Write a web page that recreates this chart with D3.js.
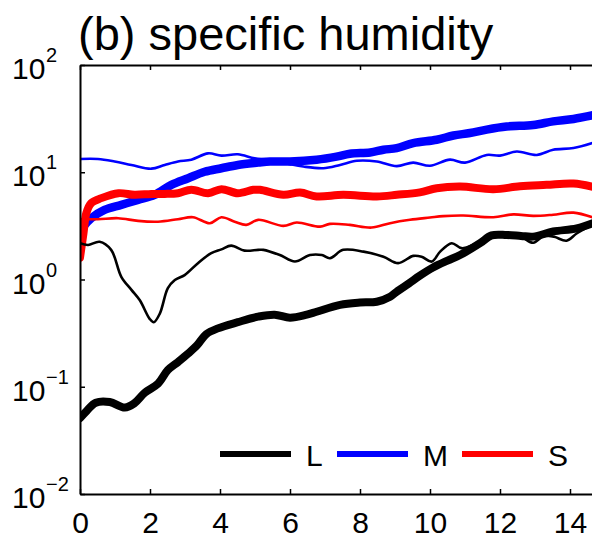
<!DOCTYPE html>
<html>
<head>
<meta charset="utf-8">
<script src="https://cdn.jsdelivr.net/npm/d3@7"></script>
<style>
  html, body { margin: 0; padding: 0; background: #fff; }
  svg { display: block; font-family: "Liberation Sans", Arial, Helvetica, sans-serif; }
</style>
</head>
<body>
<svg id="chart" width="592" height="541"></svg>
<script>
// Specific humidity time series for the L, M and S classes (thick and thin variants)
const titleText = "(b) specific humidity";
const xTicks = [0, 2, 4, 6, 8, 10, 12, 14];
const yTickExponents = [-2, -1, 0, 1, 2];

const lThickT = [0, 0.2, 0.45, 0.85, 1.28, 1.55, 1.85, 2.23, 2.51, 2.8, 3.09, 3.35, 3.61, 3.94, 4.51, 5.09, 5.56, 6.0, 6.48, 6.76, 7.43, 8.0, 8.48, 8.86, 9.05, 9.4, 9.7, 10.1, 10.5, 10.86, 11.43, 11.76, 12.19, 12.6, 12.95, 13.52, 14.19, 14.75];
const lThickQ = [0.051, 0.060, 0.071, 0.072, 0.064, 0.070, 0.088, 0.107, 0.143, 0.170, 0.204, 0.245, 0.31, 0.35, 0.40, 0.45, 0.47, 0.44, 0.47, 0.50, 0.58, 0.61, 0.62, 0.69, 0.77, 0.92, 1.08, 1.30, 1.50, 1.69, 2.18, 2.58, 2.60, 2.55, 2.51, 2.80, 3.0, 3.45];

const lThinT = [0, 0.23, 0.56, 0.89, 1.18, 1.47, 1.71, 1.99, 2.11, 2.28, 2.51, 2.71, 2.99, 3.37, 3.75, 4.04, 4.32, 4.70, 5.09, 5.24, 5.71, 6.14, 6.57, 6.91, 7.14, 7.52, 8.10, 8.67, 9.09, 9.52, 9.76, 10.05, 10.29, 10.62, 10.9, 11.3, 11.76, 12.19, 12.6, 12.95, 13.25, 13.55, 13.9, 14.2, 14.75];
const lThinQ = [2.18, 2.10, 2.25, 1.89, 1.06, 0.80, 0.64, 0.43, 0.40, 0.48, 0.83, 0.99, 1.10, 1.42, 1.76, 1.91, 2.07, 1.86, 1.89, 1.89, 1.69, 1.47, 1.69, 1.69, 1.58, 1.89, 1.82, 1.63, 1.42, 1.66, 1.63, 1.47, 1.82, 2.18, 1.96, 2.15, 2.55, 2.60, 2.50, 2.20, 2.55, 2.50, 2.30, 2.70, 3.40];

const mThickT = [0, 0.1, 0.32, 0.7, 1.18, 1.66, 2.13, 2.61, 3.09, 3.56, 4.04, 4.51, 5.09, 5.43, 6.0, 6.76, 7.33, 7.71, 8.29, 8.67, 9.05, 9.52, 10.19, 10.67, 11.14, 11.62, 12.19, 12.95, 13.52, 14.1, 14.75];
const mThickQ = [2.4, 3.1, 3.73, 4.46, 4.97, 5.53, 6.16, 7.63, 8.8, 10.1, 10.9, 11.7, 12.3, 12.6, 12.6, 13.1, 14.0, 14.9, 15.3, 16.2, 16.8, 18.7, 20.1, 22.0, 23.2, 25.0, 26.7, 27.6, 29.8, 31.4, 34.5];

const mThinT = [0, 0.51, 0.99, 1.47, 2.04, 2.42, 2.8, 3.18, 3.66, 4.04, 4.51, 4.99, 5.43, 6.0, 6.38, 6.95, 7.43, 7.91, 8.48, 9.05, 9.52, 10.0, 10.57, 11.0, 11.62, 12.0, 12.48, 13.05, 13.52, 14.1, 14.75];
const mThinQ = [13.3, 13.3, 12.6, 11.7, 10.8, 11.7, 12.6, 13.1, 15.0, 14.3, 14.7, 13.5, 13.1, 11.9, 11.3, 10.9, 11.7, 12.8, 12.6, 11.4, 12.3, 11.5, 13.1, 12.3, 14.5, 14.3, 15.6, 14.5, 16.2, 16.8, 19.2];

const sThickT = [0, 0.1, 0.18, 0.32, 0.61, 1.1, 1.56, 2.04, 2.42, 2.8, 3.18, 3.66, 4.04, 4.51, 4.95, 5.14, 5.81, 6.29, 6.76, 7.52, 8.48, 9.05, 9.71, 10.19, 10.86, 11.81, 12.57, 13.33, 14.1, 14.75];
const sThickQ = [1.6, 2.7, 4.15, 5.15, 5.74, 6.38, 6.16, 6.28, 6.28, 6.38, 6.86, 6.38, 6.96, 6.38, 6.86, 6.86, 6.16, 6.46, 5.95, 6.16, 5.95, 6.16, 6.5, 7.1, 7.35, 6.95, 7.4, 7.63, 7.85, 7.2];

const sThinT = [0, 0.51, 1.09, 1.66, 2.23, 2.8, 3.23, 3.71, 4.04, 4.42, 4.75, 5.09, 5.81, 6.19, 6.86, 7.14, 7.71, 8.33, 8.86, 9.43, 10.0, 10.38, 10.95, 11.81, 12.38, 12.95, 13.52, 14.1, 14.75];
const sThinQ = [3.65, 3.65, 3.73, 3.52, 3.46, 3.65, 3.81, 3.35, 3.81, 3.46, 3.23, 3.6, 3.16, 3.4, 3.11, 3.3, 3.23, 3.05, 3.35, 3.6, 3.78, 3.9, 3.95, 3.81, 4.05, 3.92, 4.02, 4.2, 3.7];

const seriesNames = ["L", "M", "S"];
const seriesColors = ["#000000", "#0000ff", "#ff0000"];

const svg = d3.select("#chart");
const margin = { left: 80, top: 65, right: 605, bottom: 494 };

const x = d3.scaleLinear().domain([0, 15]).range([margin.left, margin.right]);
const y = d3.scaleLog().domain([0.01, 100]).range([margin.bottom, margin.top]);

// clip region for the data
svg.append("defs").append("clipPath").attr("id", "plotclip")
  .append("rect")
  .attr("x", margin.left).attr("y", margin.top)
  .attr("width", margin.right - margin.left).attr("height", margin.bottom - margin.top);

const zip = (t, q) => t.map((d, i) => [d, q[i]]);
const line = d3.line()
  .x(d => x(d[0]))
  .y(d => y(d[1]))
  .curve(d3.curveCatmullRom.alpha(0.5));

const series = [
  { data: zip(lThickT, lThickQ), color: seriesColors[0], w: 8 },
  { data: zip(mThickT, mThickQ), color: seriesColors[1], w: 8.5 },
  { data: zip(sThickT, sThickQ), color: seriesColors[2], w: 8 },
  { data: zip(lThinT, lThinQ), color: seriesColors[0], w: 2.6 },
  { data: zip(mThinT, mThinQ), color: seriesColors[1], w: 2.6 },
  { data: zip(sThinT, sThinQ), color: seriesColors[2], w: 2.6 }
];

const plot = svg.append("g").attr("clip-path", "url(#plotclip)");
plot.selectAll("path.series")
  .data(series)
  .join("path")
  .attr("class", "series")
  .attr("d", d => line(d.data))
  .attr("fill", "none")
  .attr("stroke", d => d.color)
  .attr("stroke-width", d => d.w)
  .attr("stroke-linejoin", "round")
  .attr("stroke-linecap", "round");

// axes: bottom with labels, top mirrored ticks, left log ticks
const axisStyle = g => {
  g.select(".domain").attr("stroke", "#000").attr("stroke-width", 2);
  g.selectAll(".tick line").attr("stroke", "#000").attr("stroke-width", 1.5);
};

svg.append("g")
  .attr("transform", `translate(0,${margin.bottom})`)
  .call(d3.axisBottom(x).tickValues(xTicks).tickSize(-5).tickSizeOuter(0).tickPadding(18).tickFormat(d3.format("d")))
  .call(axisStyle)
  .call(g => g.selectAll("text")
    .attr("font-size", 30)
    .attr("fill", "#000")
    .attr("font-family", "'Liberation Sans', Arial, Helvetica, sans-serif"));

svg.append("g")
  .attr("transform", `translate(0,${margin.top})`)
  .call(d3.axisTop(x).tickValues(xTicks).tickSize(-5).tickSizeOuter(0).tickFormat(""))
  .call(axisStyle);

const yTickVals = yTickExponents.map(e => Math.pow(10, e));
svg.append("g")
  .attr("transform", `translate(${margin.left},0)`)
  .call(d3.axisLeft(y).tickValues(yTickVals).tickSize(-5).tickSizeOuter(0).tickFormat(""))
  .call(axisStyle);

svg.append("g")
  .attr("transform", `translate(${margin.right},0)`)
  .call(d3.axisRight(y).tickValues(yTickVals).tickSize(-5).tickSizeOuter(0).tickFormat(""))
  .call(axisStyle);

// power-of-ten tick labels
const yLab = svg.append("g").attr("fill", "#000");
yTickExponents.forEach(e => {
  const py = y(Math.pow(10, e));
  yLab.append("text")
    .attr("x", 12).attr("y", py + 14)
    .attr("font-size", 30)
    .text("10");
  yLab.append("text")
    .attr("x", 46).attr("y", py - 3)
    .attr("font-size", 20)
    .text(e < 0 ? "\u2212" + Math.abs(e) : String(e));
});

// title
svg.append("text")
  .attr("x", 78).attr("y", 50)
  .attr("font-size", 47)
  .attr("fill", "#000")
  .text(titleText);

// legend
const legendX = [220, 337, 462];
const legend = svg.append("g");
seriesNames.forEach((name, i) => {
  legend.append("line")
    .attr("x1", legendX[i]).attr("x2", legendX[i] + 71)
    .attr("y1", 454).attr("y2", 454)
    .attr("stroke", seriesColors[i])
    .attr("stroke-width", 6);
  legend.append("text")
    .attr("x", legendX[i] + 86).attr("y", 466)
    .attr("font-size", 30)
    .attr("fill", "#000")
    .text(name);
});
</script>
</body>
</html>
